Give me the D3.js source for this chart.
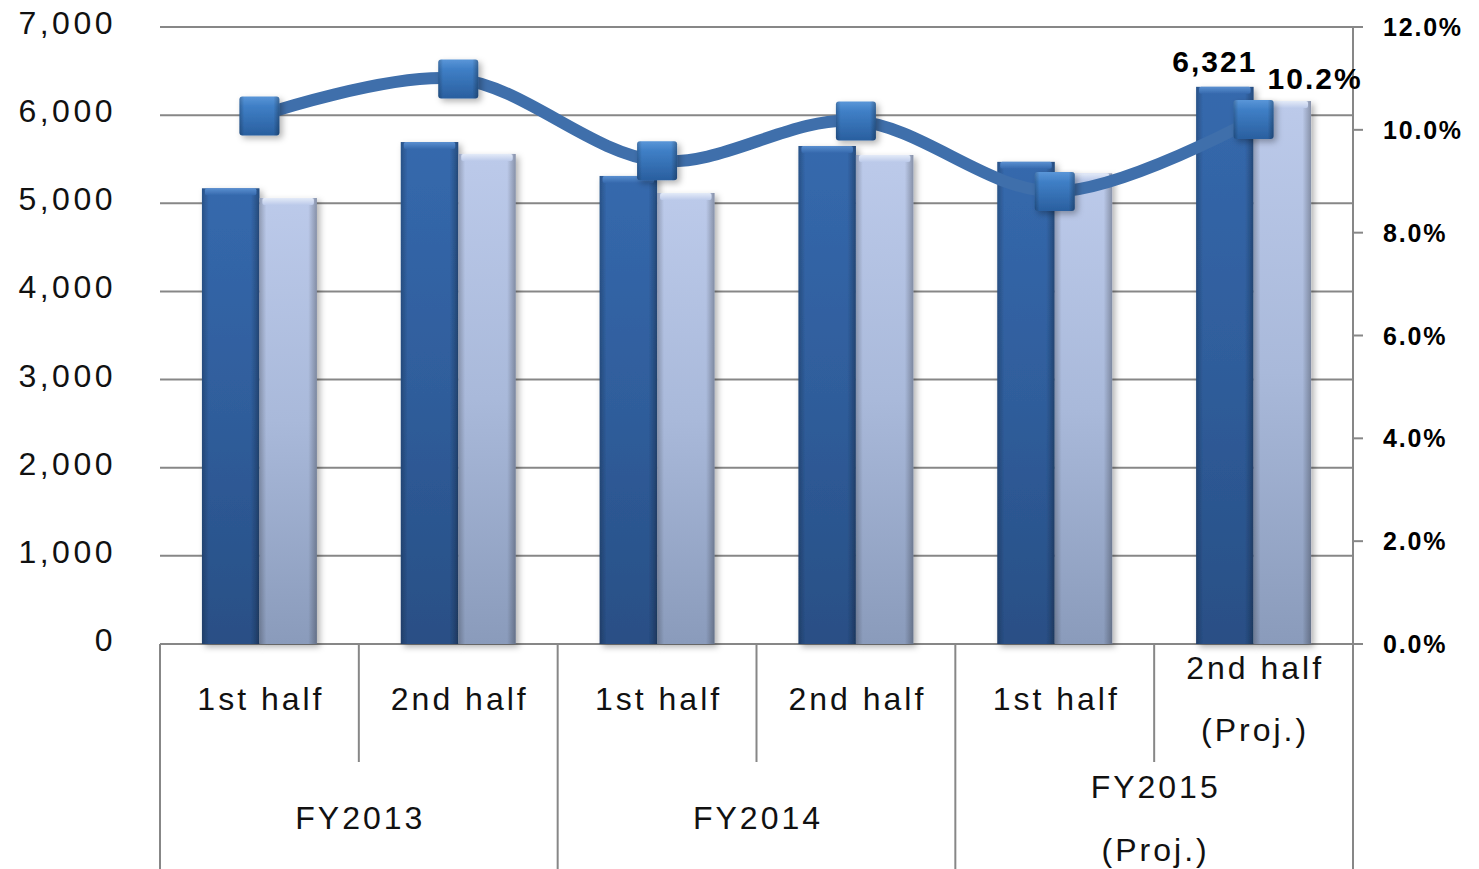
<!DOCTYPE html>
<html>
<head>
<meta charset="utf-8">
<script src="https://cdn.jsdelivr.net/npm/d3@7"></script>
<style>
  body { margin: 0; background: #fff; }
  svg { display: block; }
</style>
</head>
<body>
<div id="chart"></div>
<script>
// data
var halves   = ["1st half", "2nd half", "1st half", "2nd half", "1st half", "2nd half\n(Proj.)"];
var years    = ["FY2013", "FY2014", "FY2015\n(Proj.)"];
var salesA   = [5170, 5695, 5310, 5650, 5470, 6321];   // dark bars
var salesB   = [5060, 5560, 5117, 5548, 5340, 6160];   // light bars
var margin   = [10.27, 10.99, 9.4, 10.17, 8.8, 10.2];  // line, %
var leftTicks  = [0, 1000, 2000, 3000, 4000, 5000, 6000, 7000];
var rightTicks = [0, 2, 4, 6, 8, 10, 12];

var W = 1479, H = 869;
var plot = {left: 160, right: 1353, top: 27, bottom: 644};

var svg = d3.select("#chart").append("svg")
    .attr("width", W)
    .attr("height", H);

var defs = svg.append("defs");

function vgrad(id, stops){
    var g = defs.append("linearGradient").attr("id", id)
        .attr("x1", 0).attr("y1", 0).attr("x2", 0).attr("y2", 1);
    stops.forEach(function(s){ g.append("stop").attr("offset", s[0]).attr("stop-color", s[1]); });
}
function hgrad(id, stops){
    var g = defs.append("linearGradient").attr("id", id)
        .attr("x1", 0).attr("y1", 0).attr("x2", 1).attr("y2", 0);
    stops.forEach(function(s){
        g.append("stop").attr("offset", s[0]).attr("stop-color", s[1][0]).attr("stop-opacity", s[1][1]);
    });
}
vgrad("gDark",  [[0, "#3569ad"], [0.5, "#2f5d9b"], [1, "#294f85"]]);
vgrad("gLight", [[0, "#bccaea"], [0.5, "#a9b9da"], [1, "#8a9bbb"]]);
vgrad("gMark",  [[0, "#5a96d8"], [0.25, "#3f7fc6"], [1, "#2a5f9f"]]);
hgrad("gEdge",  [[0, ["#000", 0.22]], [0.12, ["#000", 0]], [0.85, ["#000", 0]], [1, ["#000", 0.28]]]);
vgrad("gCapD",  [[0, "#5a8fd0"], [1, "#3569ad"]]);
vgrad("gCapL",  [[0, "#e4ebf8"], [1, "#bccaea"]]);

var shadow = defs.append("filter").attr("id", "shadow")
    .attr("x", "-20%").attr("y", "-20%").attr("width", "150%").attr("height", "150%");
shadow.append("feDropShadow").attr("dx", 3).attr("dy", 3)
    .attr("stdDeviation", 3).attr("flood-color", "#000").attr("flood-opacity", 0.3);

// scales
var x0 = d3.scaleBand().domain(d3.range(halves.length))
    .range([plot.left, plot.right]).padding(0);
var x1 = d3.scaleBand().domain(["A", "B"])
    .range([0, x0.bandwidth()]).paddingInner(0).paddingOuter(0.73);
var yL = d3.scaleLinear().domain([0, 7000]).range([plot.bottom, plot.top]);
var yR = d3.scaleLinear().domain([0, 12]).range([plot.bottom, plot.top]);

var gridColor = "#878787";

// horizontal gridlines
svg.append("g").selectAll("line")
    .data(leftTicks)
    .enter().append("line")
    .attr("x1", plot.left).attr("x2", plot.right)
    .attr("y1", function(d){ return yL(d); })
    .attr("y2", function(d){ return yL(d); })
    .attr("stroke", gridColor).attr("stroke-width", 2);

// left axis labels
svg.append("g").selectAll("text")
    .data(leftTicks)
    .enter().append("text")
    .attr("x", 116)
    .attr("y", function(d){ return yL(d) + 7; })
    .attr("text-anchor", "end")
    .attr("font-family", "Liberation Sans, Arial, sans-serif")
    .attr("font-size", 32)
    .attr("letter-spacing", 3.5)
    .attr("fill", "#111")
    .text(function(d){ return d3.format(",")(d); });

// right axis
svg.append("line")
    .attr("x1", plot.right).attr("x2", plot.right)
    .attr("y1", plot.top).attr("y2", plot.bottom)
    .attr("stroke", gridColor).attr("stroke-width", 2);
svg.append("g").selectAll("line")
    .data(rightTicks)
    .enter().append("line")
    .attr("x1", plot.right).attr("x2", plot.right + 10)
    .attr("y1", function(d){ return yR(d); })
    .attr("y2", function(d){ return yR(d); })
    .attr("stroke", gridColor).attr("stroke-width", 2);
svg.append("g").selectAll("text")
    .data(rightTicks)
    .enter().append("text")
    .attr("x", 1383)
    .attr("y", function(d){ return yR(d) + 9; })
    .attr("font-family", "Liberation Sans, Arial, sans-serif")
    .attr("font-weight", "bold")
    .attr("font-size", 25)
    .attr("letter-spacing", 1.8)
    .attr("fill", "#000")
    .text(function(d){ return d.toFixed(1) + "%"; });

// category axis frame
var axisG = svg.append("g");
axisG.append("line")
    .attr("x1", plot.left).attr("x2", plot.right + 10)
    .attr("y1", plot.bottom).attr("y2", plot.bottom)
    .attr("stroke", gridColor).attr("stroke-width", 2);
d3.range(halves.length + 1).forEach(function(i){
    var xx = plot.left + i * x0.step();
    axisG.append("line")
        .attr("x1", xx).attr("x2", xx)
        .attr("y1", plot.bottom)
        .attr("y2", i % 2 == 0 ? H : 762)
        .attr("stroke", gridColor).attr("stroke-width", 2);
});

function multiline(g, str, cx, cy, lh){
    var lines = str.split("\n");
    var t = g.append("text")
        .attr("text-anchor", "middle")
        .attr("font-family", "Liberation Sans, Arial, sans-serif")
        .attr("font-size", 32)
        .attr("letter-spacing", 3)
        .attr("fill", "#111");
    lines.forEach(function(l, k){
        t.append("tspan")
            .attr("x", cx + 1.5)
            .attr("y", cy + 11 + (k - (lines.length - 1) / 2) * lh)
            .text(l);
    });
}
halves.forEach(function(h, i){
    multiline(axisG, h, x0(i) + x0.bandwidth() / 2, 699, 62);
});
years.forEach(function(yr, j){
    multiline(axisG, yr, plot.left + (2 * j + 1) * x0.step(), 818, 63);
});

// bars
var rows = halves.map(function(h, i){ return {i: i, A: salesA[i], B: salesB[i]}; });
var groups = svg.append("g").selectAll("g")
    .data(rows)
    .enter().append("g")
    .attr("transform", function(d){ return "translate(" + x0(d.i) + ",0)"; });

var bars = groups.selectAll("g")
    .data(function(d){ return [{k: "A", v: d.A}, {k: "B", v: d.B}]; })
    .enter().append("g")
    .attr("filter", "url(#shadow)");
bars.append("rect")
    .attr("x", function(d){ return x1(d.k); })
    .attr("y", function(d){ return yL(d.v); })
    .attr("width", x1.bandwidth())
    .attr("height", function(d){ return plot.bottom - yL(d.v); })
    .attr("fill", function(d){ return d.k == "A" ? "url(#gDark)" : "url(#gLight)"; });
bars.append("rect")
    .attr("x", function(d){ return x1(d.k); })
    .attr("y", function(d){ return yL(d.v); })
    .attr("width", x1.bandwidth())
    .attr("height", function(d){ return plot.bottom - yL(d.v); })
    .attr("fill", "url(#gEdge)");
bars.append("rect")
    .attr("x", function(d){ return x1(d.k) + 3; })
    .attr("y", function(d){ return yL(d.v); })
    .attr("width", x1.bandwidth() - 6)
    .attr("height", 7)
    .attr("rx", 2)
    .attr("fill", function(d){ return d.k == "A" ? "url(#gCapD)" : "url(#gCapL)"; });

// margin line
var pts = margin.map(function(m, i){ return [x0(i) + x0.bandwidth() / 2, yR(m)]; });
svg.append("path")
    .datum(pts)
    .attr("d", d3.line().curve(d3.curveCardinal.tension(0)))
    .attr("fill", "none")
    .attr("stroke", "#3f6fab")
    .attr("stroke-width", 12);

var marks = svg.append("g").selectAll("g")
    .data(pts)
    .enter().append("g")
    .attr("filter", "url(#shadow)");
marks.append("rect")
    .attr("x", function(d){ return d[0] - 20; })
    .attr("y", function(d){ return d[1] - 19.5; })
    .attr("width", 40).attr("height", 39).attr("rx", 3)
    .attr("fill", "url(#gMark)");
marks.append("rect")
    .attr("x", function(d){ return d[0] - 20; })
    .attr("y", function(d){ return d[1] - 19.5; })
    .attr("width", 40).attr("height", 39).attr("rx", 3)
    .attr("fill", "url(#gEdge)");

// data labels on the last point
var last = halves.length - 1;
svg.append("text")
    .attr("x", x0(last) + x1("A") + x1.bandwidth() / 2 - 10)
    .attr("y", yL(salesA[last]) - 15)
    .attr("text-anchor", "middle")
    .attr("font-family", "Liberation Sans, Arial, sans-serif")
    .attr("font-weight", "bold")
    .attr("font-size", 30)
    .attr("letter-spacing", 2)
    .text(d3.format(",")(salesA[last]));
svg.append("text")
    .attr("x", pts[last][0] + 14)
    .attr("y", pts[last][1] - 31)
    .attr("font-family", "Liberation Sans, Arial, sans-serif")
    .attr("font-weight", "bold")
    .attr("font-size", 30)
    .attr("letter-spacing", 2)
    .text(margin[last].toFixed(1) + "%");
</script>
</body>
</html>
